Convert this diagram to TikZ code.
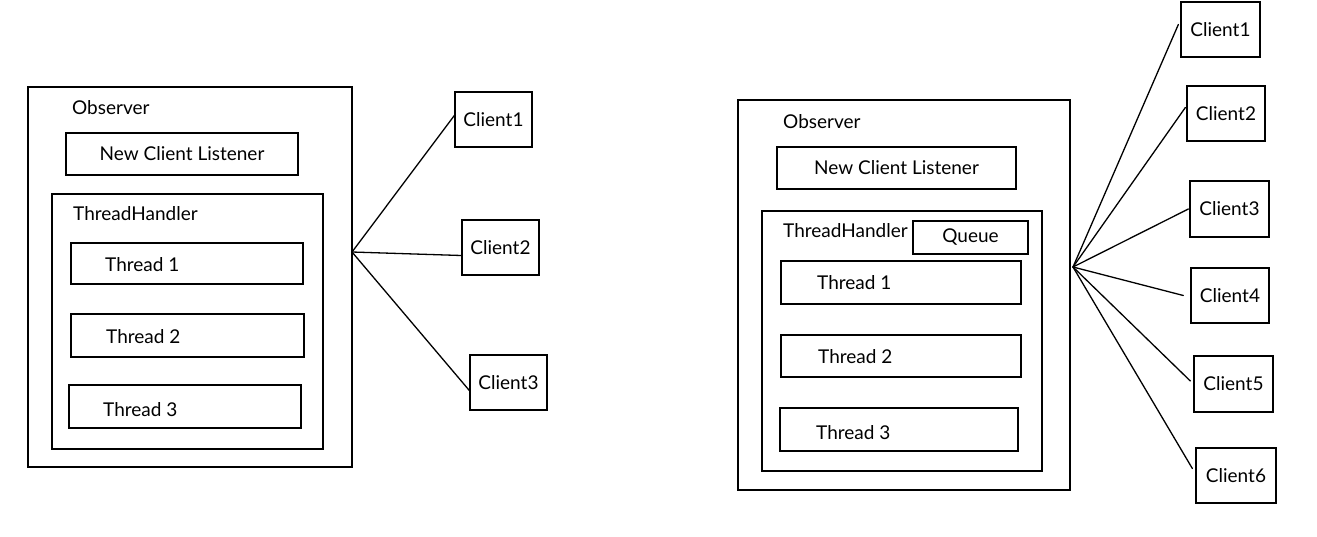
\documentclass[tikz,border=0pt]{standalone}
\usepackage{fontspec}
\setmainfont{Lato}
\usetikzlibrary{calc}
\begin{document}
\begin{tikzpicture}[x=1pt,y=-1pt,
  box/.style={draw, line width=1.3pt, inner sep=0pt, rectangle, font=\fontsize{19}{22}\selectfont},
  lbl/.style={font=\fontsize{19}{22}\selectfont, inner sep=0pt, anchor=west},
  wire/.style={line width=1.3pt, line cap=round}]
\fill[white] (0,0) rectangle (1317,536);
\useasboundingbox (0,0) rectangle (1317,536);

% ---------------- left diagram ----------------
\node[box, minimum width=324pt, minimum height=380pt] (obsL) at (190,277) {};
\node[lbl] (obsLt) at (72,108) {Observer};
\node[box, minimum width=232pt, minimum height=42pt] (nclL) at (182,154) {New Client Listener};
\node[box, minimum width=271pt, minimum height=255pt] (thL) at (187.5,321.5) {};
\node[lbl] (thLt) at (73,214) {ThreadHandler};
\node[box, minimum width=232pt, minimum height=41pt] (t1L) at (187,263.5) {};
\node[lbl] (t1Lt) at (105,265) {Thread 1};
\node[box, minimum width=233pt, minimum height=43pt] (t2L) at (187.5,335.5) {};
\node[lbl] (t2Lt) at (106,337) {Thread 2};
\node[box, minimum width=232pt, minimum height=43pt] (t3L) at (185,406.5) {};
\node[lbl] (t3Lt) at (103,410) {Thread 3};

\node[box, minimum width=77pt, minimum height=55pt] (c1L) at (493.5,119.5) {Client1};
\node[box, minimum width=77pt, minimum height=55pt] (c2L) at (500.5,247.5) {Client2};
\node[box, minimum width=77pt, minimum height=55pt] (c3L) at (508.5,382.5) {Client3};

\coordinate (hubL) at (352,252);
\draw[wire] (hubL) -- ([yshift=4pt]c1L.west);
\draw[wire] (hubL) -- ([yshift=-8pt]c2L.west);
\draw[wire] (hubL) -- ([yshift=-8pt]c3L.west);

% ---------------- right diagram ----------------
\node[box, minimum width=332pt, minimum height=390pt] (obsR) at (904,295) {};
\node[lbl] (obsRt) at (783,122) {Observer};
\node[box, minimum width=239pt, minimum height=42pt] (nclR) at (896.5,168) {New Client Listener};
\node[box, minimum width=280pt, minimum height=260pt] (thR) at (902,341) {};
\node[lbl] (thRt) at (783,231) {ThreadHandler};
\node[box, minimum width=115pt, minimum height=33pt] (qR) at (970.5,237.5) {Queue};
\node[box, minimum width=240pt, minimum height=43pt] (t1R) at (901,282.5) {};
\node[lbl] (t1Rt) at (817,283) {Thread 1};
\node[box, minimum width=240pt, minimum height=42pt] (t2R) at (901,356) {};
\node[lbl] (t2Rt) at (818,357) {Thread 2};
\node[box, minimum width=238pt, minimum height=43pt] (t3R) at (899,429.5) {};
\node[lbl] (t3Rt) at (816,433) {Thread 3};

\node[box, minimum width=79pt, minimum height=55pt] (c1R) at (1220.5,29.5) {Client1};
\node[box, minimum width=78pt, minimum height=55pt] (c2R) at (1226,113.5) {Client2};
\node[box, minimum width=79pt, minimum height=56pt] (c3R) at (1229.5,209) {Client3};
\node[box, minimum width=78pt, minimum height=55pt] (c4R) at (1230,295.5) {Client4};
\node[box, minimum width=79pt, minimum height=56pt] (c5R) at (1233.5,384) {Client5};
\node[box, minimum width=80pt, minimum height=55pt] (c6R) at (1236,475.5) {Client6};

\coordinate (hubR) at (1073,267);
\draw[wire] (hubR) -- ([xshift=-2pt,yshift=5pt]c1R.west);
\draw[wire] (hubR) -- ([xshift=-1pt,yshift=6pt]c2R.west);
\draw[wire] (hubR) -- ([xshift=-1pt]c3R.west);
\draw[wire] (hubR) -- ([xshift=-7pt]c4R.west);
\draw[wire] (hubR) -- ([xshift=-3pt,yshift=3pt]c5R.west);
\draw[wire] (hubR) -- ([xshift=-3pt,yshift=7pt]c6R.west);
\end{tikzpicture}
\end{document}
